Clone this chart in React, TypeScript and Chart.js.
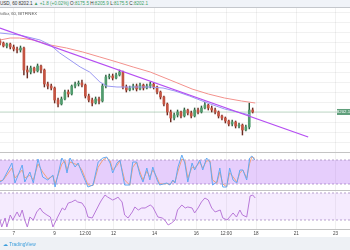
import React, { useEffect, useRef } from "react";
import { Chart, registerables } from "chart.js";
Chart.register(...registerables);

// ---- candles (4h spacing), prices in USD ----
const opens = [8557,8547,8532,8542,8527,8517,8512,8522,8412,8402,8422,8407,8432,8412,8342,8332,8322,8262,8242,8267,8302,8292,8332,8342,8347,8337,8282,8262,8247,8267,8257,8332,8377,8382,8372,8387,8402,8327,8312,8322,8332,8317,8337,8322,8332,8342,8327,8302,8277,8242,8202,8172,8187,8202,8182,8212,8197,8182,8212,8202,8222,8237,8222,8212,8202,8182,8172,8157,8142,8152,8132,8137,8112,8127,8212];
const highs = [8567,8552,8547,8547,8537,8527,8532,8527,8432,8432,8427,8442,8437,8417,8352,8342,8327,8272,8277,8312,8312,8337,8352,8357,8362,8342,8292,8272,8277,8277,8342,8387,8392,8392,8397,8412,8407,8337,8332,8342,8342,8347,8342,8342,8352,8347,8332,8307,8282,8247,8212,8197,8212,8207,8222,8217,8207,8222,8222,8232,8252,8242,8232,8222,8207,8187,8177,8162,8162,8157,8147,8142,8137,8247,8222];
const lows = [8537,8527,8522,8517,8507,8497,8502,8387,8372,8392,8397,8402,8397,8327,8317,8312,8247,8227,8237,8262,8277,8287,8322,8332,8327,8272,8252,8232,8242,8242,8252,8322,8367,8362,8367,8382,8317,8302,8307,8312,8307,8312,8312,8317,8322,8317,8292,8267,8232,8187,8152,8162,8177,8172,8177,8187,8172,8177,8192,8197,8217,8212,8202,8192,8172,8162,8147,8132,8132,8122,8122,8087,8107,8117,8197];
const closes = [8547,8532,8542,8527,8517,8512,8522,8412,8402,8422,8407,8432,8412,8342,8332,8322,8262,8242,8267,8302,8292,8332,8342,8347,8337,8282,8262,8247,8267,8257,8332,8377,8382,8372,8387,8402,8327,8312,8322,8332,8317,8337,8322,8332,8342,8327,8302,8277,8242,8202,8172,8187,8202,8182,8212,8197,8182,8212,8202,8222,8237,8222,8212,8202,8182,8172,8157,8142,8152,8132,8137,8112,8127,8212,8202.1];
const CANDLE_STEP_HOURS = 4;

// ---- moving averages and trend line: [hour, price] ----
const maBlue = [[0,8597],[23,8587],[47,8562],[59,8537],[70,8497],[82,8462],[94,8427],[105,8402],[117,8352],[125,8332],[137,8327],[156,8327],[176,8327],[191,8322],[205,8307],[222,8282],[240,8252],[263,8217],[293,8187]];
const maRed = [[0,8562],[12,8572],[23,8572],[39,8562],[59,8537],[78,8522],[97,8502],[117,8477],[137,8452],[156,8427],[176,8402],[205,8352],[225,8317],[244,8292],[263,8272],[283,8257],[299,8247]];
const trendLine = [[0,8622],[361,8077]];
const lastPrice = 8202.1;

// ---- Stoch RSI ----
const stochHours = [0,3.5,14,17.5,26,29,35,39,44.5,50,56,62,64.5,72.5,76,78.5,82,88,91.5,96,99.5,103,109,115,120.5,125,129,132,137,140.5,146,152,155.5,160,164,167.5,172,175.5,179,184,187,195.5,199,202.5,205,208.5,213,216.5,220,225,228,234,237.5,242,246,249,254,257.5,261,265.5,269,273,277.5,281,284.5,289,292.5,295,298.5];
const stochK = [25,30,72.5,22.5,67.5,25,50,22.5,82.5,37.5,30,42.5,12.5,85,72.5,47.5,85,62.5,72.5,47.5,30,12.5,17.5,75,85,87.5,72.5,47.5,72.5,80,17.5,17.5,75,75,42.5,25,60,30,62.5,30,17.5,22.5,17.5,30,22.5,62.5,92.5,72.5,25,72.5,55,80,55,85,75,17.5,25,60,12.5,12.5,60,30,22.5,55,55,30,85,90,80];
const stochD = [28,29,60,35,55,35,42,30,70,50,33,40,20,70,78,55,75,70,68,55,36,18,16,62,80,86,78,55,66,78,30,17,62,75,50,30,52,38,55,36,20,21,19,27,25,52,82,78,35,62,60,74,60,78,78,30,22,50,20,13,48,38,25,48,55,35,72,88,84];
const stochBand = [20, 80];

// ---- RSI ----
const rsiHours = [0,2,6,8,12,15,20,23,26,29,32,35,39,43,47,50,55,59,62,67,70,73,76,80,84,88,91,96,100,103,108,111,117,119,123,126,132,137,138,143,146,150,155,158,162,166,170,176,179,185,190,193,197,201,205,208,213,217,220,225,228,232,236,240,244,248,252,258,261,266,269,273,277,281,284,289,293,296,299];
const rsiValues = [30,19.6,33,19.6,37.4,30,41.9,34.4,44.8,30,19.6,34.4,30,41.9,47.8,41.9,37.4,34.4,19.6,33,40.4,47.8,44.8,55.2,56.7,59.6,56.7,55.2,47.8,34.4,33,40.4,55.2,59.6,67,64.1,59.6,62.6,64.1,56.7,37.4,33,41.9,49.3,44.8,47.8,47.8,52.2,49.3,34.4,33,30,22.6,25.6,30,44.8,52.2,47.8,49.3,47.8,40.4,47.8,56.7,62.6,59.6,47.8,41.9,44.8,33,30,34.4,40.4,34.4,44.8,37.4,34.4,65.6,67,62.6];
const rsiBand = [30, 70];

// ---- axes ----
const tickHours = [16, 64, 100, 133, 181, 230, 265, 300, 347, 393];
const tickLabels = ["7", "9", "12:00", "12", "14", "16", "12:00", "18", "21", "23"];
const priceGridLevels = [8050,8100,8150,8200,8250,8300,8350,8400,8450,8500,8550,8600,8650,8700];

const X_MAX = 410;
const GRID = "rgba(0,0,0,0.055)";
const FONT = '"Liberation Sans", Arial, sans-serif';
const UP = "#519c6e", DOWN = "#c45442", UP_W = "#2c5a3c", DOWN_W = "#6b2a20";

function xScale(showLabels: boolean) {
  return {
    type: "linear",
    min: 0,
    max: X_MAX,
    offset: false,
    afterBuildTicks: (s: any) => { s.ticks = tickHours.map((v) => ({ value: v })); },
    afterFit: (s: any) => { s.height = showLabels ? 8 : 0; },
    grid: { color: GRID, drawTicks: false, offset: false },
    border: showLabels ? { display: true, color: "#c2c2c2", width: 1 } : { display: false },
    ticks: {
      display: showLabels,
      autoSkip: false,
      maxRotation: 0,
      minRotation: 0,
      padding: 1.5,
      color: "#444",
      font: { size: 4.6, family: FONT },
      callback: (_v: any, i: number) => tickLabels[i],
    },
  };
}

const noPlugins = { legend: { display: false }, tooltip: { enabled: false } };

const priceLabelPlugin = {
  id: "priceLabel",
  afterDatasetsDraw(chart: any) {
    const { ctx, chartArea, scales } = chart;
    const y = scales.y.getPixelForValue(lastPrice);
    const w = 13, h = 6;
    ctx.save();
    ctx.fillStyle = "#5f9f7b";
    ctx.fillRect(chartArea.right - w, y - h / 2, w, h);
    ctx.fillStyle = "#ffffff";
    ctx.font = `4.4px ${FONT}`;
    ctx.textAlign = "center";
    ctx.textBaseline = "middle";
    ctx.fillText(lastPrice.toFixed(1), chartArea.right - w / 2, y + 0.3);
    ctx.restore();
  },
};

function bandDatasets(band: number[], fillColor: string) {
  const line = (v: number) => [{ x: 0, y: v }, { x: X_MAX, y: v }];
  return [
    { type: "line", data: line(band[1]), borderColor: "#a58cbf", borderWidth: 0.8, borderDash: [2, 2], pointRadius: 0, fill: "+1", backgroundColor: fillColor, order: 10 },
    { type: "line", data: line(band[0]), borderColor: "#a58cbf", borderWidth: 0.8, borderDash: [2, 2], pointRadius: 0, fill: false, order: 11 },
  ];
}

export default function App() {
  const mainRef = useRef<HTMLCanvasElement>(null);
  const stochRef = useRef<HTMLCanvasElement>(null);
  const rsiRef = useRef<HTMLCanvasElement>(null);

  useEffect(() => {
    const pts = (arr: number[][]) => arr.map(([x, y]) => ({ x, y }));
    const candleX = opens.map((_, i) => i * CANDLE_STEP_HOURS);
    const isUp = (i: number) => closes[i] >= opens[i];

    const main = new Chart(mainRef.current as HTMLCanvasElement, {
      type: "bar",
      data: {
        datasets: [
          { type: "line", data: pts(trendLine), borderColor: "#b54ef2", borderWidth: 1.3, pointRadius: 0, order: 1 },
          { type: "line", data: pts(maBlue), borderColor: "#9a98f2", borderWidth: 1, pointRadius: 0, order: 2 },
          { type: "line", data: pts(maRed), borderColor: "#f3928d", borderWidth: 1, pointRadius: 0, order: 3 },
          {
            type: "bar",
            data: candleX.map((x, i) => ({ x, y: [opens[i], closes[i]] })),
            backgroundColor: (c: any) => (isUp(c.dataIndex) ? UP : DOWN),
            borderWidth: 0,
            barThickness: 2,
            grouped: false,
            order: 4,
          },
          {
            type: "bar",
            data: candleX.map((x, i) => ({ x, y: [lows[i], highs[i]] })),
            backgroundColor: (c: any) => (isUp(c.dataIndex) ? UP_W : DOWN_W),
            borderWidth: 0,
            barThickness: 0.8,
            grouped: false,
            order: 5,
          },
          { type: "line", data: [{ x: 0, y: lastPrice }, { x: X_MAX, y: lastPrice }], borderColor: "rgba(95,170,120,0.45)", borderWidth: 0.8, pointRadius: 0, order: 6 },
        ],
      } as any,
      options: {
        responsive: false,
        animation: false,
        events: [],
        layout: { padding: 0 },
        plugins: noPlugins,
        scales: {
          x: xScale(false),
          y: {
            type: "linear",
            min: 8002,
            max: 8722,
            afterBuildTicks: (s: any) => { s.ticks = priceGridLevels.map((v) => ({ value: v })); },
            afterFit: (s: any) => { s.width = 0; },
            grid: { color: GRID, drawTicks: false },
            border: { display: false },
            ticks: { display: false },
          },
        },
      } as any,
      plugins: [priceLabelPlugin],
    });

    const stoch = new Chart(stochRef.current as HTMLCanvasElement, {
      type: "line",
      data: {
        datasets: [
          ...bandDatasets(stochBand, "rgba(155,60,245,0.25)"),
          { data: stochHours.map((x, i) => ({ x, y: stochD[i] })), borderColor: "#f2a07a", borderWidth: 1, pointRadius: 0, order: 2 },
          { data: stochHours.map((x, i) => ({ x, y: stochK[i] })), borderColor: "#62a8f2", borderWidth: 1, pointRadius: 0, order: 1 },
        ],
      } as any,
      options: {
        responsive: false,
        animation: false,
        events: [],
        layout: { padding: 0 },
        plugins: noPlugins,
        scales: {
          x: xScale(false),
          y: { type: "linear", display: false, min: 5, max: 97.5 },
        },
      } as any,
    });

    const rsi = new Chart(rsiRef.current as HTMLCanvasElement, {
      type: "line",
      data: {
        datasets: [
          ...bandDatasets(rsiBand, "rgba(155,60,245,0.1)"),
          { data: rsiHours.map((x, i) => ({ x, y: rsiValues[i] })), borderColor: "#b878d8", borderWidth: 1, pointRadius: 0, order: 1 },
        ],
      } as any,
      options: {
        responsive: false,
        animation: false,
        events: [],
        layout: { padding: 0 },
        plugins: noPlugins,
        scales: {
          x: xScale(true),
          y: { type: "linear", display: false, min: 16.67, max: 72.96 },
        },
      } as any,
    });

    return () => { main.destroy(); stoch.destroy(); rsi.destroy(); };
  }, []);

  const green = "#3f9f68";
  const dark = "#333";
  const abs = (top: number, height: number, extra: any = {}) => ({ position: "absolute" as const, left: 0, top, width: 350, height, ...extra });

  return (
    <div style={{ position: "fixed", left: 0, top: 0, width: 350, height: 250, overflow: "hidden", background: "#fff", fontFamily: FONT }}>
      <div style={abs(0, 7, { background: "#f0f3f8", borderBottom: "1px solid #c4c7cc" })}>
        <div style={{ position: "absolute", right: 202, top: 0, lineHeight: "7px", fontSize: 4.6, whiteSpace: "nowrap" }}>
          <span style={{ color: dark }}>BTCUSD, 60 8202.1 </span>
          <span style={{ color: green }}>▲ +1.8 (+0.02%) </span>
          <span style={{ color: dark }}>O:</span><span style={{ color: green }}>8175.5 </span>
          <span style={{ color: dark }}>H:</span><span style={{ color: green }}>8205.9 </span>
          <span style={{ color: dark }}>L:</span><span style={{ color: green }}>8175.5 </span>
          <span style={{ color: dark }}>C:</span><span style={{ color: green }}>8202.1</span>
        </div>
      </div>
      <canvas ref={mainRef} width={350} height={144} style={abs(8, 144, { display: "block" })} />
      <div style={{ position: "absolute", right: 313, top: 11, lineHeight: "6px", fontSize: 4.2, color: "#555", whiteSpace: "nowrap" }}>
        Bitcoin / Dollar, 60, BITFINEX
      </div>
      <div style={abs(152, 1, { background: "#c4c4c4" })} />
      <canvas ref={stochRef} width={350} height={37} style={abs(153, 37, { display: "block" })} />
      <div style={abs(190, 1, { background: "#c4c4c4" })} />
      <canvas ref={rsiRef} width={350} height={46} style={abs(191, 46, { display: "block" })} />
      <div style={abs(237, 13, { background: "#eef1f5" })}>
        <div style={{ position: "absolute", left: 3, top: 0, lineHeight: "15px", fontSize: 4.8, color: "#3a9ddc", whiteSpace: "nowrap" }}>
          ☁ TradingView
        </div>
      </div>
    </div>
  );
}
